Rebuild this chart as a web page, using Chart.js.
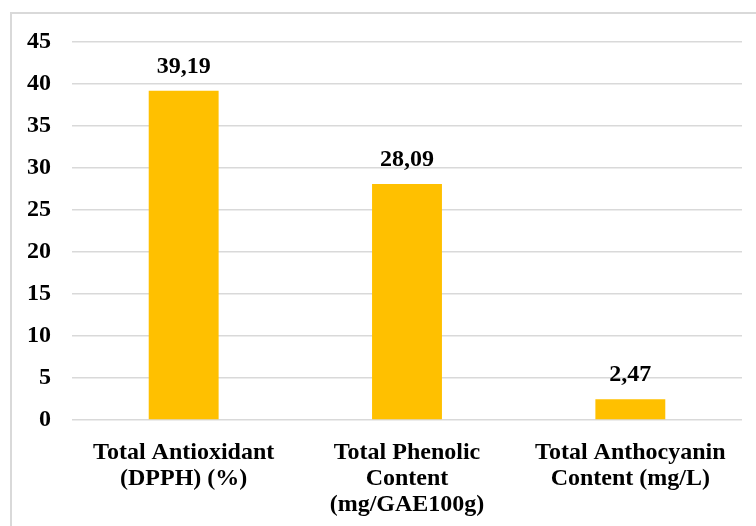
<!DOCTYPE html>
<html>
<head>
<meta charset="utf-8">
<script src="https://cdn.jsdelivr.net/npm/chart.js@4/dist/chart.umd.min.js"></script>
<style>
  html, body { margin: 0; padding: 0; background: #fff; overflow: hidden; }
  #wrap { position: relative; width: 756px; height: 526px; }
  #frame {
    position: absolute; left: 10px; top: 12px; right: -20px; bottom: -20px;
    border: 2px solid #d9d9d9;
  }
  canvas { position: absolute; left: 0; top: 0; }
</style>
</head>
<body>
<div id="wrap">
  <div id="frame"></div>
  <canvas id="chart" width="756" height="526"></canvas>
</div>
<script>
  // ========== DATA ==========
  const categories = [
    ["Total Antioxidant", "(DPPH) (%)"],
    ["Total Phenolic", "Content", "(mg/GAE100g)"],
    ["Total Anthocyanin", "Content (mg/L)"],
  ];
  const values = [39.19, 28.09, 2.47];
  const valueLabels = ["39,19", "28,09", "2,47"];
  const yTicks = [0, 5, 10, 15, 20, 25, 30, 35, 40, 45];

  const FONT = "'Liberation Serif', 'Times New Roman', serif";

  // draws the value above each bar
  const barLabels = {
    id: "barLabels",
    afterDatasetsDraw(chart) {
      const ctx = chart.ctx;
      const meta = chart.getDatasetMeta(0);
      ctx.save();
      ctx.font = "bold 24px " + FONT;
      ctx.fillStyle = "#000";
      ctx.textAlign = "center";
      ctx.textBaseline = "alphabetic";
      meta.data.forEach((bar, i) => {
        ctx.fillText(valueLabels[i], bar.x, bar.y - 18);
      });
      ctx.restore();
    },
  };

  new Chart(document.getElementById("chart"), {
    type: "bar",
    data: {
      labels: categories,
      datasets: [
        {
          data: values,
          backgroundColor: "#FFC000",
          borderWidth: 0,
          categoryPercentage: 1,
          barPercentage: 0.313,
        },
      ],
    },
    options: {
      responsive: false,
      animation: false,
      events: [],
      layout: { padding: { top: 42, right: 14, left: 0, bottom: 0 } },
      plugins: { legend: { display: false }, tooltip: { enabled: false } },
      scales: {
        y: {
          min: 0,
          max: 45,
          afterBuildTicks: (scale) => {
            scale.ticks = yTicks.map((v) => ({ value: v }));
          },
          afterFit: (scale) => { scale.width = 72; },
          grid: { color: "#d9d9d9", lineWidth: 1.5, drawTicks: false },
          border: { display: false },
          ticks: {
            color: "#000",
            padding: 21,
            font: { family: FONT, size: 24, weight: "bold" },
          },
        },
        x: {
          afterFit: (scale) => { scale.height = 106; },
          grid: { display: false, drawTicks: false },
          border: { display: false },
          ticks: {
            color: "#000",
            padding: 20,
            maxRotation: 0,
            font: { family: FONT, size: 24, weight: "bold", lineHeight: 1.08 },
          },
        },
      },
    },
    plugins: [barLabels],
  });
</script>
</body>
</html>
